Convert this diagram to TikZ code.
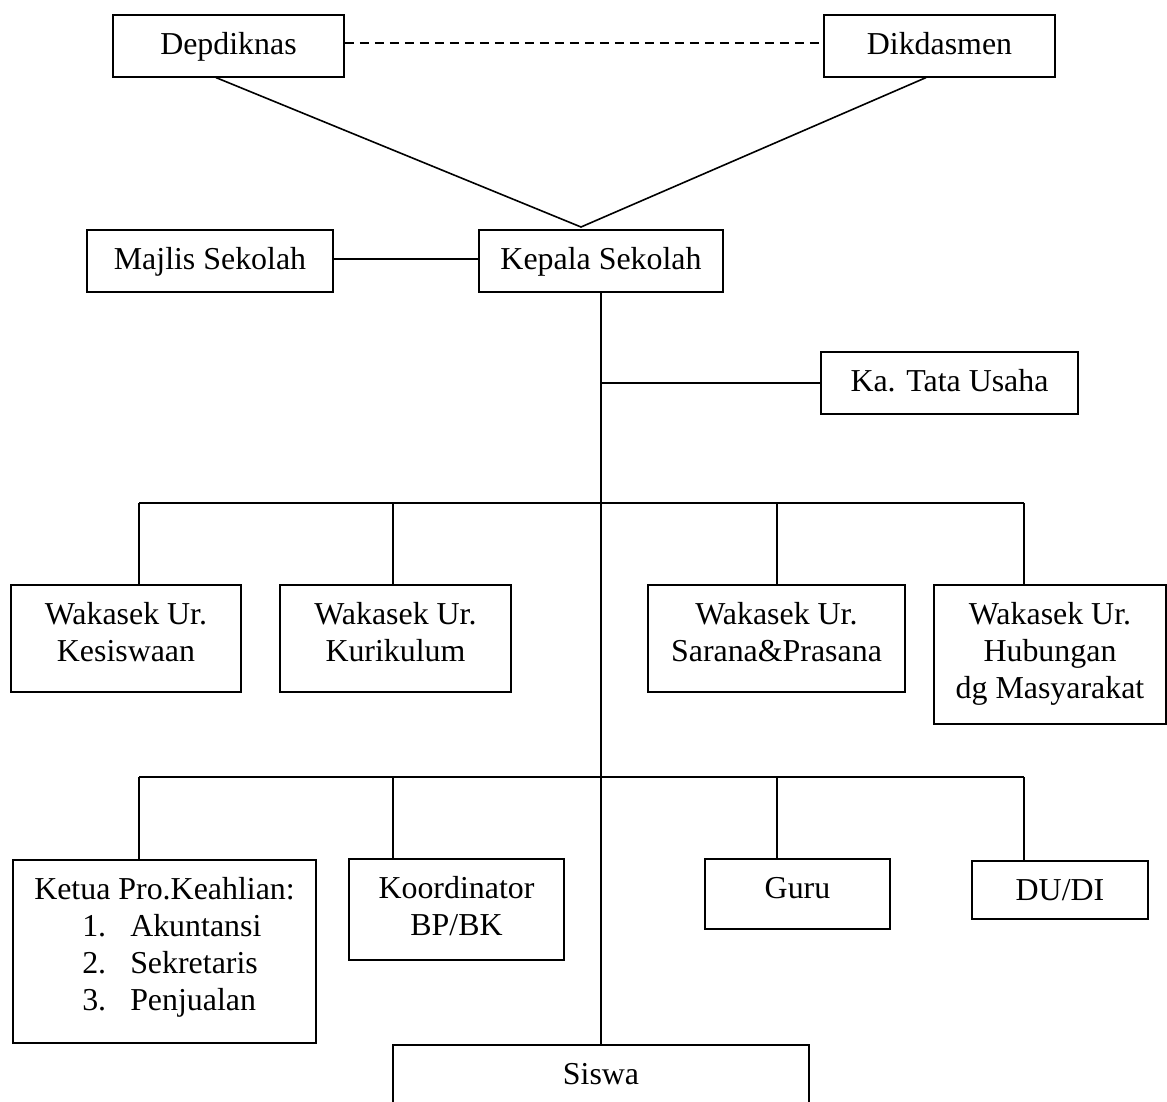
\documentclass[tikz,border=0pt]{standalone}
\usepackage{fontspec}
\setmainfont{Liberation Serif}
\tikzset{
  orgbox/.style={draw, line width=1.6pt, inner sep=0pt, anchor=north, align=center,
    font=\fontsize{31.9}{37}\selectfont, text height=39.5pt},
  conn/.style={line width=1.6pt},
  dashconn/.style={line width=1.6pt, dash pattern=on 9pt off 6pt},
}
\begin{document}
\begin{tikzpicture}[x=1pt,y=1pt]
\useasboundingbox (0,0) rectangle (1167,-1102);
\clip (0,0) rectangle (1167,-1102);
% top level
\node[orgbox, minimum width=231pt, text depth=22.5pt] (dep) at (228.5,-14) {Depdiknas};
\node[orgbox, minimum width=231pt, text depth=22.5pt] (dik) at (939.5,-14) {Dikdasmen};
\node[orgbox, minimum width=246pt, text depth=22.5pt] (maj) at (210,-229) {Majlis Sekolah};
\node[orgbox, minimum width=244pt, text depth=22.5pt] (kep) at (601,-229) {Kepala Sekolah};
\node[orgbox, minimum width=257pt, text depth=22.5pt] (tu) at (949.5,-351) {Ka. Tata Usaha};
% wakasek row
\node[orgbox, minimum width=230pt, text height=76.5pt, text depth=30.5pt] (w1) at (126,-584) {Wakasek Ur.\\Kesiswaan};
\node[orgbox, minimum width=231pt, text height=76.5pt, text depth=30.5pt] (w2) at (395.5,-584) {Wakasek Ur.\\Kurikulum};
\node[orgbox, minimum width=257pt, text height=76.5pt, text depth=30.5pt] (w3) at (776.5,-584) {Wakasek Ur.\\Sarana\&Prasana};
\node[orgbox, minimum width=232pt, text height=113.5pt, text depth=25.5pt] (w4) at (1050,-584) {Wakasek Ur.\\Hubungan\\dg Masyarakat};
% lower row
\node[orgbox, align=left, minimum width=303pt, text height=150.5pt, text depth=32.5pt] (ketua) at (164.5,-859)
  {Ketua Pro.Keahlian:\\\hspace*{48pt}\makebox[48pt][l]{1.}Akuntansi\\\hspace*{48pt}\makebox[48pt][l]{2.}Sekretaris\\\hspace*{48pt}\makebox[48pt][l]{3.}Penjualan};
\node[orgbox, minimum width=215pt, text height=76.5pt, text depth=24.5pt] (koord) at (456.5,-858) {Koordinator\\BP/BK};
\node[orgbox, minimum width=185pt, text depth=30.5pt] (guru) at (797.5,-858) {Guru};
\node[orgbox, minimum width=176pt, text depth=18.5pt] (dudi) at (1060,-860) {DU/DI};
\node[orgbox, minimum width=416pt, text depth=60pt] (siswa) at (601,-1044) {Siswa};
% helper coordinates
\coordinate (apex) at (581,-227);
\coordinate (b1L) at (139,-503);
\coordinate (b1K) at (393,-503);
\coordinate (b1S) at (777,-503);
\coordinate (b1R) at (1024,-503);
\coordinate (b2L) at (139,-777);
\coordinate (b2K) at (393,-777);
\coordinate (b2G) at (777,-777);
\coordinate (b2R) at (1024,-777);
% connectors
\draw[dashconn] ([yshift=3pt]dep.east) -- ([yshift=3pt]dik.west);
\draw[conn] ([xshift=-12.5pt]dep.south) -- (apex) -- ([xshift=-13.5pt]dik.south);
\draw[conn] ([yshift=2pt]maj.east) -- ([yshift=2pt]kep.west);
\draw[conn] (kep.south) -- (siswa.north);
\draw[conn] (tu.west) -- (tu.west -| kep.south);
\draw[conn] (b1L) -- (b1R);
\draw[conn] (b1L) -- (b1L |- w1.north);
\draw[conn] (b1K) -- (b1K |- w2.north);
\draw[conn] (b1S) -- (b1S |- w3.north);
\draw[conn] (b1R) -- (b1R |- w4.north);
\draw[conn] (b2L) -- (b2R);
\draw[conn] (b2L) -- (b2L |- ketua.north);
\draw[conn] (b2K) -- (b2K |- koord.north);
\draw[conn] (b2G) -- (b2G |- guru.north);
\draw[conn] (b2R) -- (b2R |- dudi.north);
\end{tikzpicture}
\end{document}
